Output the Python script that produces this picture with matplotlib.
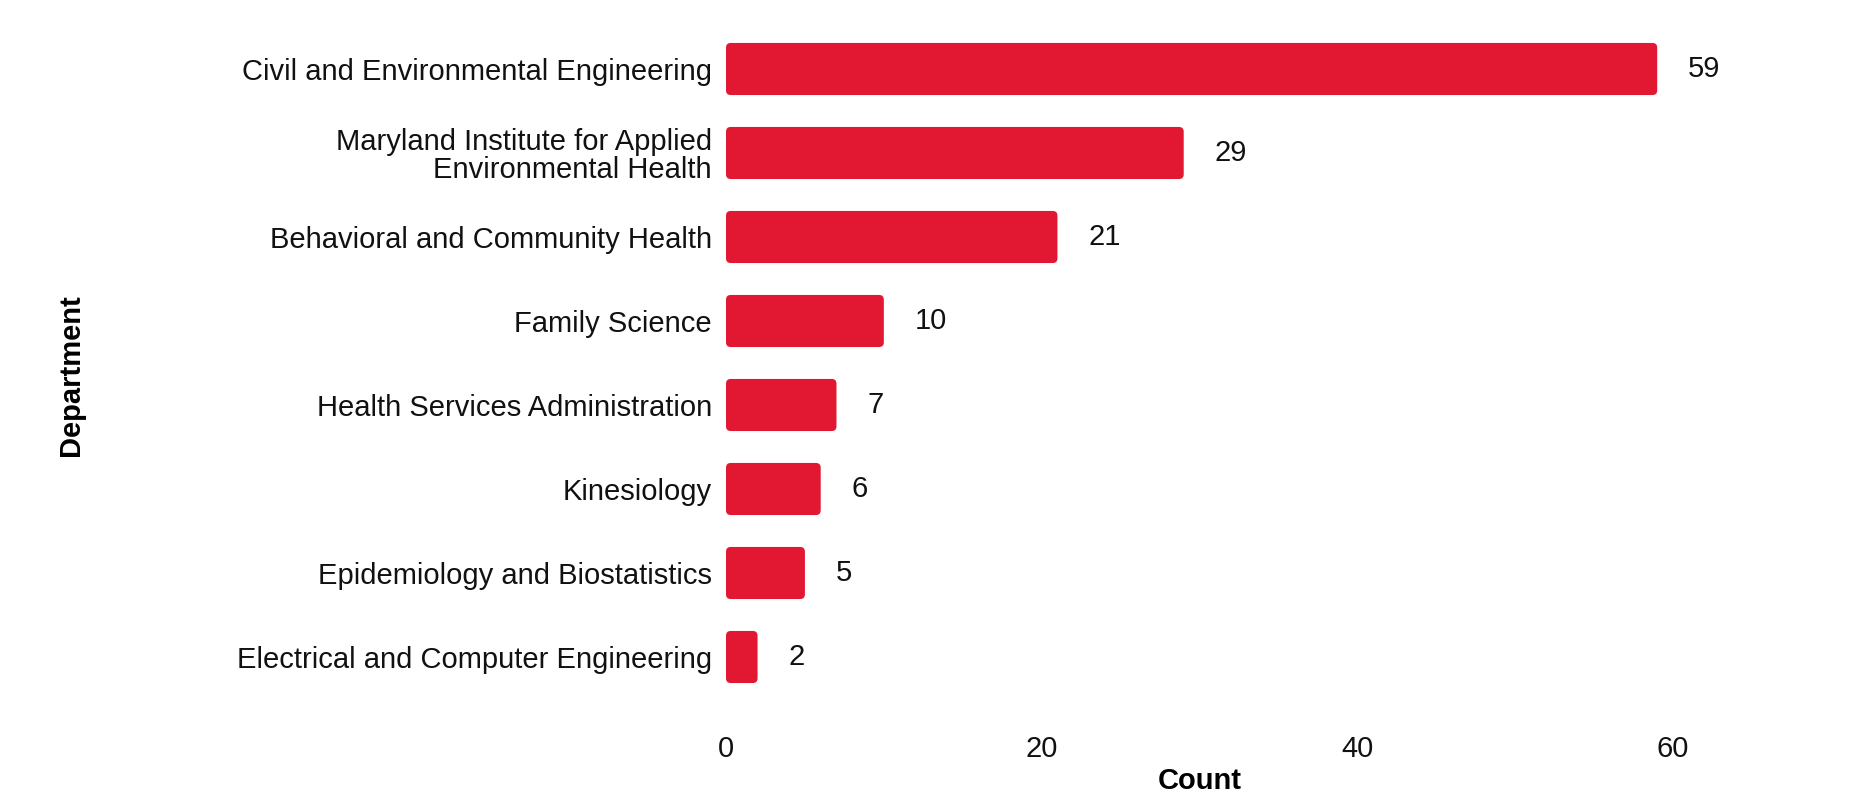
import matplotlib
matplotlib.use("Agg")
import matplotlib.pyplot as plt
from matplotlib.patches import FancyBboxPatch

plt.rcParams['font.family'] = ['Liberation Sans', 'DejaVu Sans']

departments = [
    "Civil and Environmental Engineering",
    "Maryland Institute for Applied\nEnvironmental Health",
    "Behavioral and Community Health",
    "Family Science",
    "Health Services Administration",
    "Kinesiology",
    "Epidemiology and Biostatistics",
    "Electrical and Computer Engineering",
]
counts = [59, 29, 21, 10, 7, 6, 5, 2]
xticks = [0, 20, 40, 60]

bar_color = "#E21833"
fs = 21

W, H = 1867, 808
fig = plt.figure(figsize=(W / 100, H / 100), dpi=100)
# axes in pixel terms: x0=726, right=1673, top=27, bottom=699
ax = fig.add_axes([726 / W, 1 - 699 / H, (1673 - 726) / W, (699 - 27) / H])

ypos = list(range(len(departments)))
bars = ax.barh(ypos, counts, height=0.62, color=bar_color)
ax.set_xlim(0, 60)
ax.set_ylim(len(departments) - 0.5, -0.5)

# swap plain bars for slightly rounded ones
for b in bars:
    x, y = b.get_x(), b.get_y()
    w, h = b.get_width(), b.get_height()
    b.set_visible(False)
    ax.add_patch(FancyBboxPatch((x, y), w, h,
                                boxstyle="round,pad=0,rounding_size=0.3",
                                mutation_aspect=0.188,
                                facecolor=bar_color, edgecolor="none",
                                clip_on=False))

for y, c in zip(ypos, counts):
    ax.annotate(str(c), (c, y), xytext=(22, 0), textcoords="offset points",
                ha="left", va="center", fontsize=fs, color="#111111",
                annotation_clip=False)

ax.set_yticks(ypos)
ax.set_yticklabels(departments, fontsize=fs, color="#111111", linespacing=1.0)
ax.set_xticks(xticks)
ax.set_xticklabels([str(t) for t in xticks], fontsize=fs, color="#111111")
ax.tick_params(axis="y", length=0, pad=10)
ax.tick_params(axis="x", length=0, pad=26)
for s in ax.spines.values():
    s.set_visible(False)

ax.set_xlabel("Count", fontsize=fs, fontweight="bold", labelpad=3)
fig.text(71 / W, 1 - 375 / H, "Department", rotation=90, fontsize=fs,
         fontweight="bold", ha="center", va="center")

fig.savefig("out.png", dpi=100)
